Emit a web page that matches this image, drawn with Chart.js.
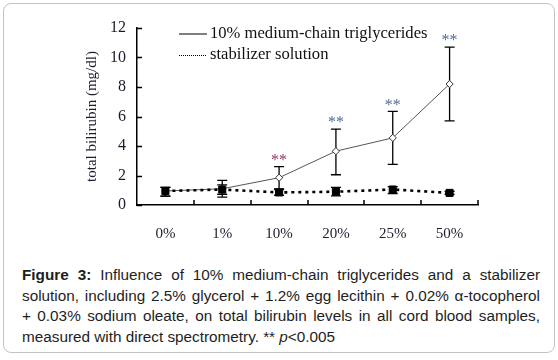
<!DOCTYPE html>
<html>
<head>
<meta charset="utf-8">
<script src="https://cdn.jsdelivr.net/npm/chart.js@4.4.1/dist/chart.umd.min.js"></script>
<style>
  html, body { margin: 0; padding: 0; background: #fff; }
  body { width: 558px; height: 360px; position: relative; overflow: hidden; }
  #frame { position: absolute; left: 3px; top: 3px; width: 552px; height: 350px; border: 1px solid #c4c4c4; border-radius: 8px; box-sizing: border-box; }
  #wrap { position: absolute; left: 0; top: 0; width: 558px; height: 250px; }
  #caption { position: absolute; left: 22px; top: 265px; width: 518px; font-family: "Liberation Sans", Arial, sans-serif; font-size: 15.3px; line-height: 20.7px; color: #1e1e1e; text-align: justify; }
</style>
</head>
<body>
<div id="frame"></div>
<div id="wrap"><canvas id="c" width="558" height="250"></canvas></div>
<div id="caption"><b>Figure 3:</b> Influence of 10% medium-chain triglycerides and a stabilizer solution, including 2.5% glycerol + 1.2% egg lecithin + 0.02% α-tocopherol +&nbsp;0.03% sodium oleate, on total bilirubin levels in all cord blood samples, measured with direct spectrometry. ** <i>p</i>&lt;0.005</div>
<script>
const categories = ['0%', '1%', '10%', '20%', '25%', '50%'];
const mctMean  = [0.95, 1.1, 1.85, 3.65, 4.55, 8.2];
const mctUpper = [1.2, 1.67, 2.6, 5.15, 6.35, 10.7];
const mctLower = [0.6, 0.53, 1.1, 2.05, 2.75, 5.7];
const stabMean  = [0.95, 1.05, 0.85, 0.9, 1.05, 0.82];
const stabUpper = [1.2, 1.37, 1.05, 1.2, 1.25, 0.92];
const stabLower = [0.6, 0.73, 0.66, 0.62, 0.78, 0.72];
const signif = [false, false, true, true, true, true];
const signifColors = ['', '', '#8c3d63', '#50699b', '#50699b', '#50699b'];
const yTicks = [0, 2, 4, 6, 8, 10, 12];
const legendLabels = ['10% medium-chain triglycerides', 'stabilizer solution'];

const SERIF = '"Liberation Serif", "Times New Roman", serif';

const errorBars = {
  id: 'errorBars',
  beforeDatasetsDraw(chart) {
    const ctx = chart.ctx, x = chart.scales.x, y = chart.scales.y;
    ctx.save();
    ctx.strokeStyle = '#000';
    ctx.lineWidth = 1.3;
    const draw = (up, lo) => {
      categories.forEach((c, i) => {
        const px = x.getPixelForValue(i);
        const pu = y.getPixelForValue(up[i]), pl = y.getPixelForValue(lo[i]);
        ctx.beginPath();
        ctx.moveTo(px, pu); ctx.lineTo(px, pl);
        ctx.moveTo(px - 5, pu); ctx.lineTo(px + 5, pu);
        ctx.moveTo(px - 5, pl); ctx.lineTo(px + 5, pl);
        ctx.stroke();
      });
    };
    draw(mctUpper, mctLower);
    draw(stabUpper, stabLower);
    ctx.restore();
  },
  afterDraw(chart) {
    const ctx = chart.ctx, x = chart.scales.x, y = chart.scales.y, a = chart.chartArea;
    ctx.save();
    ctx.strokeStyle = '#000';
    ctx.lineWidth = 1.5;
    ctx.beginPath();
    yTicks.forEach(v => {
      const py = Math.round(y.getPixelForValue(v)) + 0.5;
      ctx.moveTo(a.left, py); ctx.lineTo(a.left + 5, py);
    });
    for (let i = 1; i <= categories.length; i++) {
      const px = i < categories.length ? (x.getPixelForValue(i - 1) + x.getPixelForValue(i)) / 2 : a.right;
      ctx.moveTo(Math.round(px), a.bottom); ctx.lineTo(Math.round(px), a.bottom - 5);
    }
    ctx.stroke();
    ctx.font = '16px ' + SERIF;
    ctx.textAlign = 'center';
    ctx.textBaseline = 'middle';
    categories.forEach((c, i) => {
      if (!signif[i]) return;
      ctx.fillStyle = signifColors[i];
      ctx.fillText('**', x.getPixelForValue(i), y.getPixelForValue(mctUpper[i]) - 6);
    });
    const lx0 = 179, lx1 = 207;
    const ly = [34, 55];
    ctx.strokeStyle = '#000';
    ctx.lineWidth = 1;
    ctx.beginPath(); ctx.moveTo(lx0, ly[0]); ctx.lineTo(lx1, ly[0]); ctx.stroke();
    ctx.setLineDash([1, 1]);
    ctx.beginPath(); ctx.moveTo(lx0, ly[1] + 0.5); ctx.lineTo(lx1, ly[1] + 0.5); ctx.stroke();
    ctx.setLineDash([]);
    ctx.fillStyle = '#111';
    ctx.textAlign = 'left';
    ctx.font = '16.6px ' + SERIF;
    legendLabels.forEach((t, i) => ctx.fillText(t, 210, ly[i]));
    ctx.restore();
  }
};

new Chart(document.getElementById('c'), {
  type: 'line',
  data: {
    labels: categories,
    datasets: [
      {
        label: legendLabels[1],
        data: stabMean,
        order: 0,
        borderColor: '#000',
        borderWidth: 2.6,
        borderDash: [3, 4],
        pointStyle: 'rect',
        pointRadius: 5,
        pointBackgroundColor: '#000',
        pointBorderColor: '#000',
        pointBorderWidth: 1,
        tension: 0
      },
      {
        label: legendLabels[0],
        data: mctMean,
        order: 1,
        borderColor: '#555',
        borderWidth: 1,
        pointStyle: 'rectRot',
        pointRadius: 3.6,
        pointBackgroundColor: '#fff',
        pointBorderColor: '#333',
        pointBorderWidth: 1,
        tension: 0
      }
    ]
  },
  options: {
    responsive: false,
    animation: false,
    events: [],
    layout: { padding: { left: 0, right: 80, top: 28, bottom: 0 } },
    plugins: { legend: { display: false }, tooltip: { enabled: false } },
    scales: {
      x: {
        offset: true,
        grid: { display: false, drawTicks: false },
        border: { display: true, color: '#000', width: 1.5 },
        ticks: { color: '#1c1c2c', font: { family: SERIF, size: 15 }, padding: 20, maxRotation: 0 },
        afterFit(s) { s.height = 45; }
      },
      y: {
        min: 0, max: 12,
        grid: { display: false, drawTicks: false },
        border: { display: true, color: '#000', width: 1.5 },
        afterBuildTicks(s) { s.ticks = yTicks.map(v => ({ value: v })); },
        ticks: { color: '#1c1c2c', font: { family: SERIF, size: 16 }, padding: 11 },
        title: { display: true, text: 'total bilirubin (mg/dl)', color: '#1c1c2c', font: { family: SERIF, size: 15 }, padding: { top: 83, bottom: 0 } },
        afterFit(s) { s.width = 137; }
      }
    }
  },
  plugins: [errorBars]
});
</script>
</body>
</html>
